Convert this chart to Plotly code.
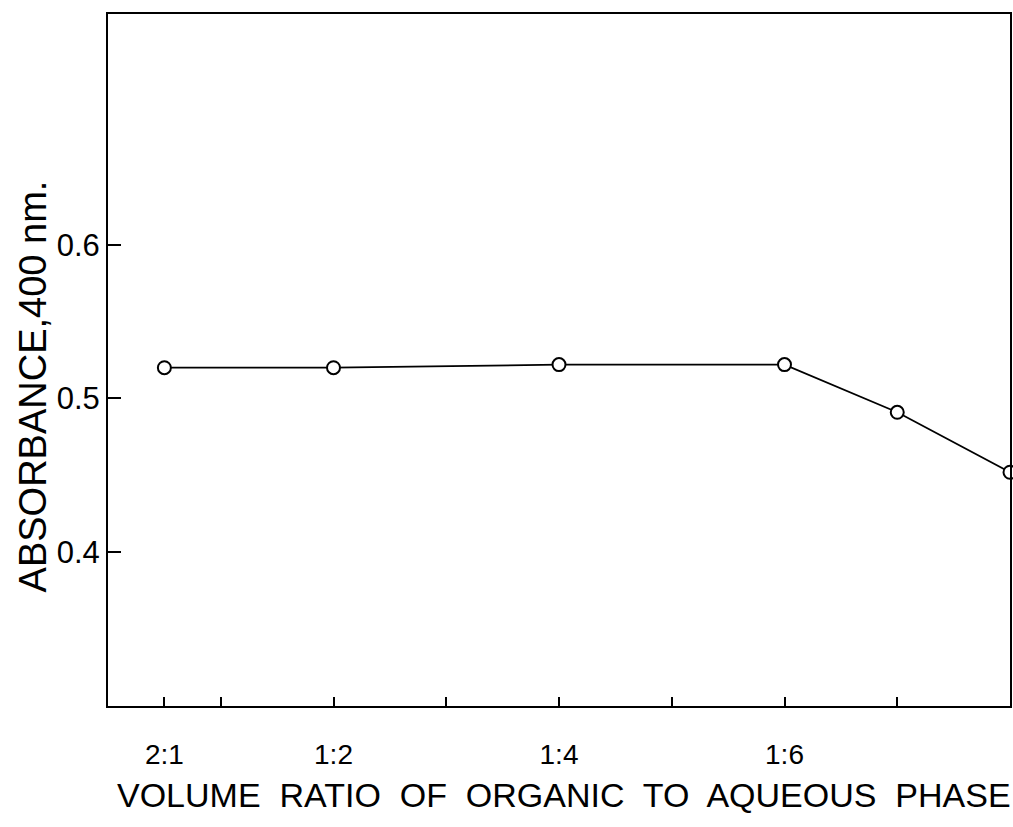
import plotly.graph_objects as go

# Aqueous-to-organic volume ratio (organic 1 : aqueous x) and measured absorbance
ratio_x = [0.5, 2, 4, 6, 7, 8]
absorbance = [0.52, 0.52, 0.522, 0.522, 0.491, 0.452]

# Axis ticks
x_tickvals = [0.5, 1, 2, 3, 4, 5, 6, 7]
x_ticktext = ["2:1", "", "1:2", "", "1:4", "", "1:6", ""]
y_tickvals = [0.4, 0.5, 0.6]
y_ticktext = ["0.4", "0.5", "0.6"]

FONT = "Liberation Sans"

fig = go.Figure()
fig.add_trace(go.Scatter(
    x=ratio_x, y=absorbance,
    mode="lines+markers",
    line=dict(color="black", width=1.8),
    marker=dict(symbol="circle", size=13, color="white",
                line=dict(color="black", width=2)),
    cliponaxis=False,
    showlegend=False,
))

fig.update_xaxes(
    range=[0, 8],
    showline=True, linecolor="black", linewidth=2, mirror=True,
    ticks="inside", ticklen=9, tickwidth=2, tickcolor="black",
    tickvals=x_tickvals, ticktext=x_ticktext,
    tickfont=dict(family=FONT, size=28, color="black"),
    ticklabelstandoff=22,
    showgrid=False, zeroline=False,
)
fig.update_yaxes(
    range=[0.3, 0.75],
    showline=True, linecolor="black", linewidth=2, mirror=True,
    ticks="inside", ticklen=13, tickwidth=1.5, tickcolor="black",
    tickvals=y_tickvals, ticktext=y_ticktext,
    tickfont=dict(family=FONT, size=31, color="black"),
    ticklabelstandoff=0,
    showgrid=False, zeroline=False,
)

fig.add_annotation(
    text="ABSORBANCE,400 nm.", textangle=-90,
    xref="paper", yref="paper", x=-0.083, y=0.462,
    showarrow=False, xanchor="center", yanchor="middle",
    font=dict(family=FONT, size=38, color="black"),
)
fig.add_annotation(
    text="VOLUME  RATIO  OF  ORGANIC  TO  AQUEOUS  PHASE",
    xref="paper", yref="paper", x=0.506, y=-0.128,
    showarrow=False, xanchor="center", yanchor="middle",
    font=dict(family=FONT, size=34, color="black"),
)

fig.update_layout(
    width=1013, height=827,
    margin=dict(l=108, r=1, t=14, b=121),
    paper_bgcolor="white", plot_bgcolor="white",
)

fig.write_html("out.html")
